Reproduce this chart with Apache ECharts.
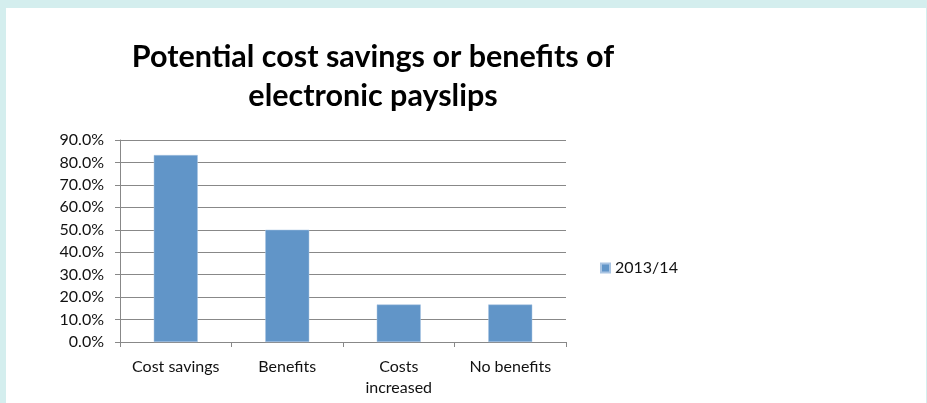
<!DOCTYPE html>
<html>
<head>
<meta charset="utf-8">
<script src="https://cdn.jsdelivr.net/npm/echarts@6/dist/echarts.min.js"></script>
<style>
  html, body { margin: 0; padding: 0; width: 927px; height: 403px; background: #d4eeee; overflow: hidden; }
  #chart { position: absolute; left: 6px; top: 8px; width: 920px; height: 395px; background: #fff; }
</style>
</head>
<body>
<div id="chart"></div>
<script>
// values (share of respondents, %)
const categories = ['Cost savings', 'Benefits', 'Costs\nincreased', 'No benefits'];
const seriesName = '2013/14';
const values = [83.3, 50.0, 16.7, 16.7];
const yTicks = [0, 10, 20, 30, 40, 50, 60, 70, 80, 90];

const chart = echarts.init(document.getElementById('chart'), null, { renderer: 'canvas' });

const font = 'Lato, "Open Sans", sans-serif';

chart.setOption({
  animation: false,
  title: {
    text: 'Potential cost savings or benefits of\nelectronic payslips',
    left: 367,
    top: 30,
    padding: 0,
    textAlign: 'center',
    textStyle: { fontFamily: font, fontSize: 30.5, fontWeight: 'bold', color: '#000', lineHeight: 39 }
  },
  legend: {
    data: [seriesName],
    left: 594,
    top: 252,
    padding: 0,
    itemWidth: 9,
    itemHeight: 9,
    itemGap: 6,
    icon: 'rect',
    textStyle: { fontFamily: font, fontSize: 16, color: '#111' }
  },
  grid: { left: 114, right: 360, top: 132, bottom: 61 },
  xAxis: {
    type: 'category',
    data: categories,
    axisLine: { lineStyle: { color: '#888' } },
    axisTick: { show: true, length: 5, lineStyle: { color: '#888' } },
    axisLabel: { fontFamily: font, fontSize: 16, color: '#111', margin: 14, lineHeight: 21, interval: 0 }
  },
  yAxis: {
    type: 'value',
    min: yTicks[0],
    max: yTicks[yTicks.length - 1],
    interval: 10,
    axisLine: { show: true, lineStyle: { color: '#888' } },
    axisTick: { show: true, length: 5, lineStyle: { color: '#888' } },
    splitLine: { lineStyle: { color: '#888' } },
    axisLabel: {
      fontFamily: font, fontSize: 16, color: '#111', margin: 16,
      formatter: v => v.toFixed(1) + '%'
    }
  },
  series: [{
    name: seriesName,
    type: 'bar',
    data: values,
    barWidth: 44,
    itemStyle: { color: '#6195c8', borderColor: '#a9c4e2', borderWidth: 0.5 }
  }]
});
</script>
</body>
</html>
